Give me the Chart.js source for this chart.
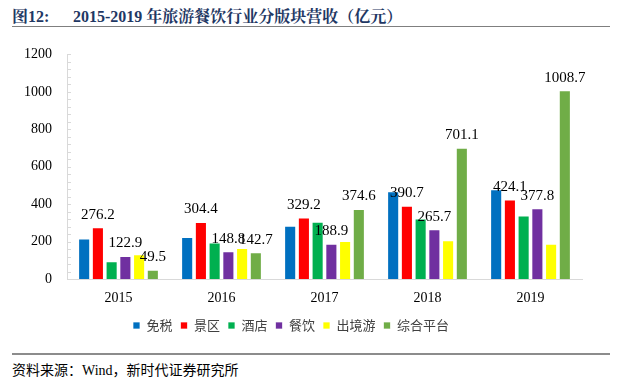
<!DOCTYPE html>
<html>
<head>
<meta charset="utf-8">
<script src="https://cdn.jsdelivr.net/npm/chart.js@4/dist/chart.umd.min.js"></script>
<style>
  body { margin: 0; background: #fff; width: 622px; height: 378px; position: relative; overflow: hidden; }
  #titulo { position: absolute; left: 12px; top: 4px; font: bold 16px "Liberation Serif", "Noto Serif CJK SC", "Noto Sans CJK SC", serif; color: #1F3864; white-space: nowrap; }
  #titulo .num { display: inline-block; width: 61px; }
  #lineaTop { position: absolute; left: 12px; right: 12px; top: 26px; height: 1px; background: #7F7F7F; }
  #caja { position: absolute; left: 0; top: 31px; width: 622px; height: 311px; }
  #lineaPie { position: absolute; left: 12px; right: 12px; top: 353px; height: 2px; background: #8C8C8C; }
  #fuente { position: absolute; left: 12px; top: 359px; font: 14px "Liberation Serif", "Noto Sans CJK SC", serif; color: #000; white-space: nowrap; }
</style>
</head>
<body>
<div id="titulo"><span class="num">图12:</span>2015-2019 年旅游餐饮行业分版块营收（亿元）</div>
<div id="lineaTop"></div>
<div id="caja"><canvas id="graficoIngresos"></canvas></div>
<div id="lineaPie"></div>
<div id="fuente">资料来源：Wind，新时代证券研究所</div>
<script>
const anios = ['2015', '2016', '2017', '2018', '2019'];
const series = ['免税', '景区', '酒店', '餐饮', '出境游', '综合平台'];
const colores = ['#0070C0', '#FF0000', '#00B050', '#7030A0', '#FFFF00', '#70AD47'];

const mianshui = [216, 224, 284, 469, 479];
const jingqu = [276.2, 304.4, 329.2, 390.7, 424.1];
const jiudian = [95, 195, 306, 323, 339];
const canyin = [122.9, 148.8, 188.9, 265.7, 377.8];
const chujingyou = [132, 166, 203, 207, 189];
const pingtai = [49.5, 142.7, 374.6, 701.1, 1008.7];

const valores = [mianshui, jingqu, jiudian, canyin, chujingyou, pingtai];
const conEtiqueta = [1, 3, 5]; // solo estas series llevan el valor encima

const fuenteSerif = '"Liberation Serif", "Times New Roman", serif';

// etiquetas de valor encima de algunas barras
const etiquetasPlugin = {
    id: 'etiquetas',
    afterDatasetsDraw(chart) {
        const ctx = chart.ctx;
        ctx.save();
        ctx.font = '15px ' + fuenteSerif;
        ctx.fillStyle = '#000';
        ctx.textAlign = 'center';
        ctx.textBaseline = 'bottom';
        conEtiqueta.forEach(i => {
            const meta = chart.getDatasetMeta(i);
            meta.data.forEach((barra, j) => {
                ctx.fillText(valores[i][j].toFixed(1), barra.x, barra.y - 5);
            });
        });
        ctx.restore();
    }
};

// marcas pequenas hacia dentro en el eje y
const marcasPlugin = {
    id: 'marcas',
    afterDraw(chart) {
        const ctx = chart.ctx;
        const escala = chart.scales.y;
        ctx.save();
        ctx.strokeStyle = '#D9D9D9';
        ctx.lineWidth = 1;
        escala.ticks.forEach(t => {
            const y = Math.round(escala.getPixelForValue(t.value)) + 0.5;
            ctx.beginPath();
            ctx.moveTo(escala.right, y);
            ctx.lineTo(escala.right + 4, y);
            ctx.stroke();
        });
        ctx.restore();
    }
};

new Chart(document.getElementById('graficoIngresos').getContext('2d'), {
    type: 'bar',
    data: {
        labels: anios,
        datasets: series.map((nombre, i) => ({
            label: nombre,
            data: valores[i],
            backgroundColor: colores[i],
            borderColor: 'rgba(255,255,255,0.7)',
            borderWidth: 1,
            categoryPercentage: 0.8,
            barPercentage: 0.88
        }))
    },
    options: {
        responsive: true,
        maintainAspectRatio: false,
        animation: false,
        layout: { padding: { left: 0, right: 40, top: 8, bottom: 0 } },
        plugins: {
            tooltip: { enabled: false },
            legend: {
                position: 'bottom',
                labels: {
                    boxWidth: 7,
                    boxHeight: 7,
                    padding: 8,
                    color: '#404040',
                    font: { size: 13, family: '"Noto Sans CJK SC", sans-serif' }
                }
            }
        },
        scales: {
            x: {
                afterFit: s => { s.height = 32; },
                grid: { display: false, drawTicks: false },
                border: { color: '#D9D9D9' },
                ticks: { color: '#000', padding: 11, font: { size: 14, family: fuenteSerif } }
            },
            y: {
                min: 0,
                max: 1200,
                afterFit: s => { s.width = 67; },
                grid: { display: false, drawTicks: false },
                border: { color: '#D9D9D9' },
                ticks: {
                    stepSize: 40,
                    autoSkip: false,
                    padding: 15,
                    color: '#000',
                    font: { size: 14, family: fuenteSerif },
                    callback: v => (v % 200 === 0 ? v : '')
                }
            }
        }
    },
    plugins: [etiquetasPlugin, marcasPlugin]
});
</script>
</body>
</html>
